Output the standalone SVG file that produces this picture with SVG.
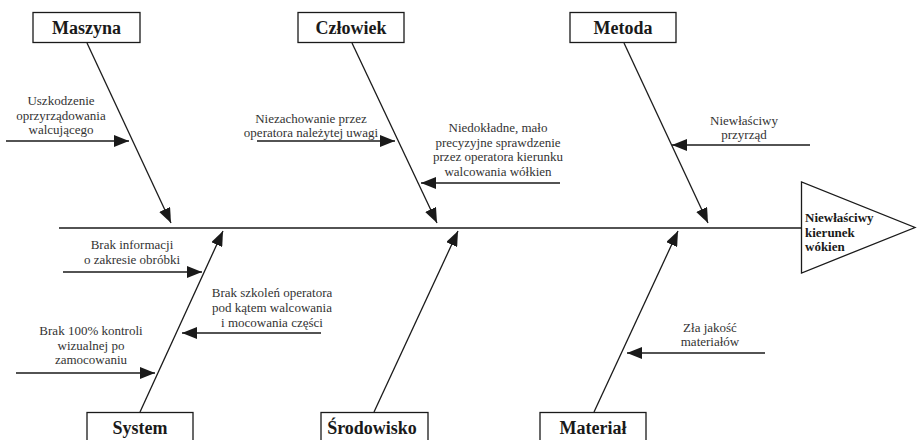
<svg xmlns="http://www.w3.org/2000/svg" width="917" height="440" viewBox="0 0 917 440">
  <style>
    .box { fill: #ffffff; stroke: #1a1a1a; stroke-width: 1.3; }
    .bone { fill: none; stroke: #1a1a1a; stroke-width: 1.3; }
    .cat { font-family: "Liberation Serif", "Times New Roman", serif; font-weight: bold; font-size: 18px; fill: #1a1a1a; text-anchor: middle; }
    .cause { font-family: "Liberation Serif", "Times New Roman", serif; font-size: 13px; fill: #333333; text-anchor: middle; }
    .effect { font-family: "Liberation Serif", "Times New Roman", serif; font-weight: bold; font-size: 13px; fill: #1a1a1a; }
  </style>
  <defs>
    <marker id="head" markerUnits="userSpaceOnUse" markerWidth="16" markerHeight="12" refX="15" refY="6" orient="auto">
      <path d="M0,0 L15,6 L0,12 z" fill="#1a1a1a"/>
    </marker>
  </defs>

  <rect width="917" height="440" fill="#ffffff"/>

  <!-- spine, category bones and cause arrows -->
  <g id="connectors">
    <line class="bone" x1="59" y1="228" x2="801.5" y2="228"/>

    <line class="bone" x1="87" y1="43" x2="171" y2="223" marker-end="url(#head)"/>
    <line class="bone" x1="352" y1="43" x2="437" y2="223" marker-end="url(#head)"/>
    <line class="bone" x1="624" y1="43" x2="708" y2="223" marker-end="url(#head)"/>

    <line class="bone" x1="140" y1="412" x2="223" y2="231" marker-end="url(#head)"/>
    <line class="bone" x1="374" y1="412" x2="458" y2="231" marker-end="url(#head)"/>
    <line class="bone" x1="594" y1="412" x2="678" y2="231" marker-end="url(#head)"/>

    <line class="bone" x1="6" y1="141" x2="129" y2="141" marker-end="url(#head)"/>
    <line class="bone" x1="257" y1="141" x2="395" y2="141" marker-end="url(#head)"/>
    <line class="bone" x1="560" y1="183" x2="421" y2="183" marker-end="url(#head)"/>
    <line class="bone" x1="810" y1="145" x2="672" y2="145" marker-end="url(#head)"/>
    <line class="bone" x1="63" y1="272" x2="202" y2="272" marker-end="url(#head)"/>
    <line class="bone" x1="321" y1="333" x2="182" y2="333" marker-end="url(#head)"/>
    <line class="bone" x1="16" y1="373" x2="155" y2="373" marker-end="url(#head)"/>
    <line class="bone" x1="765" y1="353" x2="627" y2="353" marker-end="url(#head)"/>
  </g>

  <!-- effect head -->
  <g id="effect">
    <polygon class="box" points="801.5,182 801.5,273 915,227.5"/>
    <text class="effect" x="805" y="222">Niewłaściwy</text>
    <text class="effect" x="805" y="237">kierunek</text>
    <text class="effect" x="805" y="251">wókien</text>
  </g>

  <!-- categories -->
  <g id="maszyna">
    <rect class="box" x="33" y="12.5" width="107" height="30"/>
    <text class="cat" x="86.5" y="33.5">Maszyna</text>
  </g>
  <g id="czlowiek">
    <rect class="box" x="298" y="12.5" width="106" height="30"/>
    <text class="cat" x="351" y="33.5">Człowiek</text>
  </g>
  <g id="metoda">
    <rect class="box" x="570" y="12.5" width="106" height="30"/>
    <text class="cat" x="623" y="33.5">Metoda</text>
  </g>
  <g id="system">
    <rect class="box" x="87" y="412.5" width="106" height="32"/>
    <text class="cat" x="140" y="433.5">System</text>
  </g>
  <g id="srodowisko">
    <rect class="box" x="321" y="412.5" width="107" height="32"/>
    <text class="cat" x="372" y="433.5">Środowisko</text>
  </g>
  <g id="material">
    <rect class="box" x="540" y="412.5" width="106" height="32"/>
    <text class="cat" x="593" y="433.5">Materiał</text>
  </g>

  <!-- causes -->
  <g id="cause-uszkodzenie">
    <text class="cause" x="61" y="105">Uszkodzenie</text>
    <text class="cause" x="61" y="119.5">oprzyrządowania</text>
    <text class="cause" x="61" y="134">walcującego</text>
  </g>
  <g id="cause-niezachowanie">
    <text class="cause" x="311" y="122.5">Niezachowanie przez</text>
    <text class="cause" x="311" y="137">operatora należytej uwagi</text>
  </g>
  <g id="cause-niedokladne">
    <text class="cause" x="498" y="132">Niedokładne, mało</text>
    <text class="cause" x="498" y="146.7">precyzyjne sprawdzenie</text>
    <text class="cause" x="498" y="161.4">przez operatora kierunku</text>
    <text class="cause" x="498" y="176">walcowania wółkien</text>
  </g>
  <g id="cause-przyrzad">
    <text class="cause" x="744" y="124.5">Niewłaściwy</text>
    <text class="cause" x="744" y="139">przyrząd</text>
  </g>
  <g id="cause-informacja">
    <text class="cause" x="132" y="249">Brak informacji</text>
    <text class="cause" x="132" y="263.5">o zakresie obróbki</text>
  </g>
  <g id="cause-szkolenia">
    <text class="cause" x="272" y="296.5">Brak szkoleń operatora</text>
    <text class="cause" x="272" y="311.5">pod kątem walcowania</text>
    <text class="cause" x="272" y="326.5">i mocowania części</text>
  </g>
  <g id="cause-kontrola">
    <text class="cause" x="91" y="335">Brak 100% kontroli</text>
    <text class="cause" x="91" y="349.5">wizualnej po</text>
    <text class="cause" x="91" y="364">zamocowaniu</text>
  </g>
  <g id="cause-material">
    <text class="cause" x="710" y="331.5">Zła jakość</text>
    <text class="cause" x="710" y="345.5">materiałów</text>
  </g>
</svg>
